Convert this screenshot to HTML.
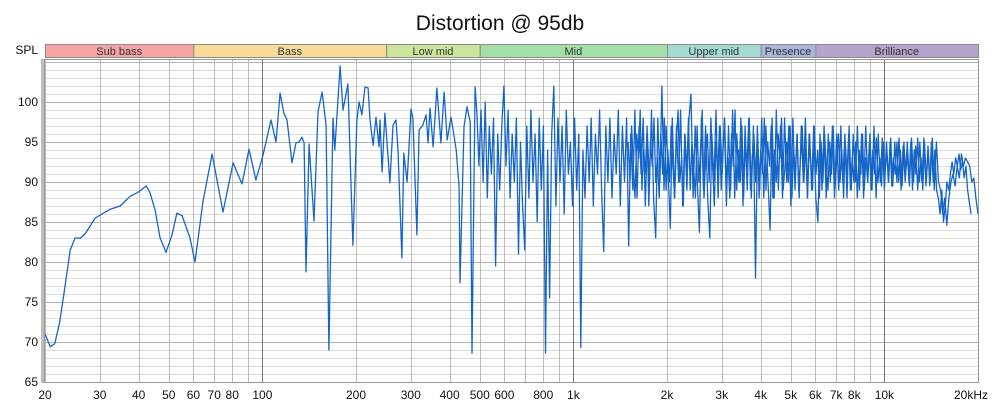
<!DOCTYPE html>
<html><head><meta charset="utf-8">
<style>
html,body{margin:0;padding:0;background:#fff;}
body{width:1000px;height:406px;overflow:hidden;font-family:"Liberation Sans",Arial,sans-serif;}
svg text{font-family:"Liberation Sans",Arial,sans-serif;}
</style></head>
<body>
<svg id="chart" width="1000" height="406" viewBox="0 0 1000 406" xmlns="http://www.w3.org/2000/svg">
<rect width="1000" height="406" fill="#fff"/>
<text x="500" y="30" text-anchor="middle" font-size="21" fill="#111">Distortion @ 95db</text>
<text x="38" y="54" text-anchor="end" font-size="12" fill="#111">SPL</text>
<g id="bands"></g>
<rect x="41" y="59" width="3" height="324" fill="#bdbdbd"/>
<g id="grid"></g>
<g id="ylabels"></g>
<g id="xlabels"></g>
<g id="series"></g>
<rect x="44.5" y="59.5" width="934" height="323" fill="none" stroke="#999" stroke-width="1"/>
</svg>
<script>
// ---- data ----
const lfFreqs = [20,20.8,21.5,22.3,23,24.1,25,26,26.9,29,32.4,34.9,37.5,39.8,42.3,43.5,45.2,46.9,49,51.2,53.1,55.2,58.5,60.7,64.4,68.9,74.7,80.5,86,90.6,95.3,100.5,106.6,110.6,114,117.3,120,124.5,128.3,131.2,134,136.2,138.1,141.3,146.6,151,155.6,160.3,163.7,168.7,171,177.8,181.6,188.4,195.5,201.4,204.6,209,213.8,218.8,221.9,227,231.9,237.2,238.9,242.6,247.8,257,263,269,273,281,285,292,300.6,304.8,314,319,328,336,341,346,354,364,375,384,393,404,413,420,429,432,445,455,466,472,483,490];
const lfSpl = [71,69.4,69.8,72.5,76,81.5,83,83,83.5,85.5,86.6,87,88.2,88.7,89.5,88.7,86.5,83,81.2,83.4,86.1,85.8,83,80,87.5,93.5,86.25,92.4,89.75,94.1,90.25,93.4,97.75,95,101.1,98.6,97.75,92.4,94.9,95,95.6,94.9,78.75,94.75,85.1,98.75,101.25,97.1,69,98,94,104.5,99,102.25,82.1,97.75,100,98.4,101.9,101.75,97.75,94.6,98.1,94.4,97.75,91.25,98.6,89.9,97.1,97.75,94,80.5,93.6,90,99.1,98,83.4,96.5,97.1,98.4,94.9,99.25,94.4,101.75,94.9,101.25,95.25,98.1,95.9,94,89.4,77.4,96.9,99.4,97.5,68.6,101.9,98.4];
const hfStart = 497, hfEnd = 20000;
const hfSpl = [
92,99,90,100,88,97,91,98,79.5,96,
89,97,102,92,99,88,96,90,98,81,
95,87,81.5,97,88,99,90,96,85,98,
89,97,68.6,94,75.5,96,102,87,98,90,
97,86,99,91,95,87,98,89,96,69.3,
94,88,97,90,98,87,96,91,99,89,
81.3,97,90,98,88,96,91,99,87,97,
90,98,82,96,89,99,88,97,91,98,
87,96,90,99,88,83,98,90,102,89,
97,91,84.2,98,88,97,90,99,87,96,
89,98,101,88,97,90,83.7,98,89,97,
88,83,96,90,99,88,97,91,98,87,
97,89,99,88,96,90,98,87,97,89,
98,88,97,78,96,89,98,88,97,90,
84,98,88,99,89,97,88,98,90,97,
87,98,89,96,88,97,90,98,88,96,
89,97,88,85,96,89,97,88,96,90,
97,88,96,89,97,90,96,88,97,89,
96,90,97,89,96,88,97,90,96,89,
97,88,96,90,95.5,89,95,90,95.5,89.5,
95,90,95.5,89,94.5,90,95,89.5,95.5,90,
94.5,89,95,90,95.5,89.5,94,90,95.5,89,
95,90,89,86,88,84.6,88,90,91,89.5,
92,90.5,93.5,92,93,92.5,92,90,90.5,88,
86];
const hf2Start = 1500, hf2End = 19000;
const hfSpl2 = [
95,90,97,92,88,96,93,99,89,94,91,97,87,95,92,98,90,93,88,96,
91,98,89,94,90,97,92,88,95,99,90,93,87,96,91,98,89,95,92,88,
97,90,94,99,88,93,96,90,98,92,87,95,91,97,89,94,98,90,93,88,
96,92,99,89,94,90,97,88,95,92,98,89,93,96,90,97,88,94,91,98,
89,95,92,97,88,94,90,96,93,98,89,92,95,90,97,88,94,91,96,89,
93,97,90,95,88,96,92,89,97,91,94,88,95,90,96,92,89,95,91,97,
89,93,96,90,94,88,95,91,96,89,93,90,95,88,94,91,96,89,93,90,
95,89,94,91,95.5,90,93,89.5,95,91,94,90,95,89.5,93,91,95,90,94,89.5,
95,91,93.5,90,95,89,94,91,95.5,90,93,89,95,90,94.5,89.5,95,90,94,89,
88,86,89,85,87,90,89,91,92.5,91,93,92,93.5,91.5,92.5,90.5,92,89,87.5,86];
const yTicks = [65,70,75,80,85,90,95,100];
const xTickFreqs = [20,30,40,50,60,70,80,100,200,300,400,500,600,800,1000,2000,3000,4000,5000,6000,7000,8000,10000,20000];
const xTickLabels = ["20","30","40","50","60","70","80","100","200","300","400","500","600","800","1k","2k","3k","4k","5k","6k","7k","8k","10k","20kHz"];
const bandNames = ["Sub bass","Bass","Low mid","Mid","Upper mid","Presence","Brilliance"];
const bandEdges = [20,60,250,500,2000,4000,6000,20000];
const bandColors = ["#f5a3a3","#f6dc98","#cbe69a","#a3e0a9","#a3dbd2","#a9b5dd","#b5a3cd"];

// ---- axes ----
const X0=45, X1=978, Y0=382, YT=59;
const DB0=65, PXDB=8;
function xScale(f){return X0+(X1-X0)*Math.log10(f/20)/3;}
function yScale(v){return Y0-(v-DB0)*PXDB;}
const NS="http://www.w3.org/2000/svg";
function mk(tag,attrs,parent){const e=document.createElementNS(NS,tag);for(const k in attrs)e.setAttribute(k,attrs[k]);parent.appendChild(e);return e;}

// bands
const gb=document.getElementById('bands');
for(let i=0;i<bandNames.length;i++){
  const xa=xScale(bandEdges[i]), xb=xScale(bandEdges[i+1]);
  const r=mk('rect',{x:xa+0.5,y:44.5,width:xb-xa,height:13,fill:bandColors[i],stroke:'#8c8c8c','stroke-width':1},gb);
  
  
  const t=mk('text',{x:(xa+xb)/2,y:55,'text-anchor':'middle','font-size':11,fill:'#333'},gb);
  t.textContent=bandNames[i];
  
  
}

// grid
const gg=document.getElementById('grid');
for(let v=65;v<=105;v++){
  const y=Math.round(yScale(v))+0.5;
  if(y<YT) continue;
  const major=(v%5===0);
  const l=mk('line',{x1:X0,x2:X1,y1:y,y2:y,stroke:major?'#b4b4b4':'#dcdcdc','stroke-width':1},gg);
  
  
}
const decadeMarks=[];
for(const d of [10,100,1000,10000]) for(let m=1;m<10;m++){const f=d*m; if(f>=20&&f<=20000) decadeMarks.push(f);}
decadeMarks.push(20000);
for(const f of decadeMarks){
  const x=Math.round(xScale(f))+0.5;
  const dark=(f===100||f===1000||f===10000);
  const l=mk('line',{x1:x,x2:x,y1:YT,y2:Y0,stroke:dark?'#777':'#bcbcbc','stroke-width':1},gg);
  
  
}

// y labels
const gy=document.getElementById('ylabels');
for(const v of yTicks){
  const t=mk('text',{x:38,y:yScale(v)+4,'text-anchor':'end','font-size':12,fill:'#111'},gy);
  t.textContent=v;
  
  
}
// x labels
const gx=document.getElementById('xlabels');
for(let i=0;i<xTickFreqs.length;i++){
  const last=i===xTickFreqs.length-1;
  const t=mk('text',{x:last?xScale(xTickFreqs[i])-24:xScale(xTickFreqs[i]),y:399,'text-anchor':last?'start':'middle','font-size':12,fill:'#111'},gx);
  t.textContent=xTickLabels[i];
  
  
}

// series
const pts=[];
for(let i=0;i<lfFreqs.length;i++) pts.push([xScale(lfFreqs[i]),yScale(lfSpl[i])]);
const n=hfSpl.length;
for(let i=0;i<n;i++){
  const f=hfStart*Math.pow(hfEnd/hfStart,i/(n-1));
  pts.push([xScale(f),yScale(hfSpl[i])]);
}
const d=pts.map((p,i)=>(i?'L':'M')+p[0].toFixed(1)+' '+p[1].toFixed(1)).join(' ');
const line=mk('path',{d:d,fill:'none',stroke:'#1565c8','stroke-width':1.3,'stroke-linejoin':'round'},document.getElementById('series'));



const pts2=[];
const n2=hfSpl2.length;
for(let i=0;i<n2;i++){
  const f=hf2Start*Math.pow(hf2End/hf2Start,i/(n2-1));
  pts2.push([xScale(f),yScale(hfSpl2[i])]);
}
const d2=pts2.map((p,i)=>(i?'L':'M')+p[0].toFixed(1)+' '+p[1].toFixed(1)).join(' ');
const line2=mk('path',{d:d2,fill:'none',stroke:'#1565c8','stroke-width':1.3,'stroke-linejoin':'round'},document.getElementById('series'));


</script>
</body></html>
